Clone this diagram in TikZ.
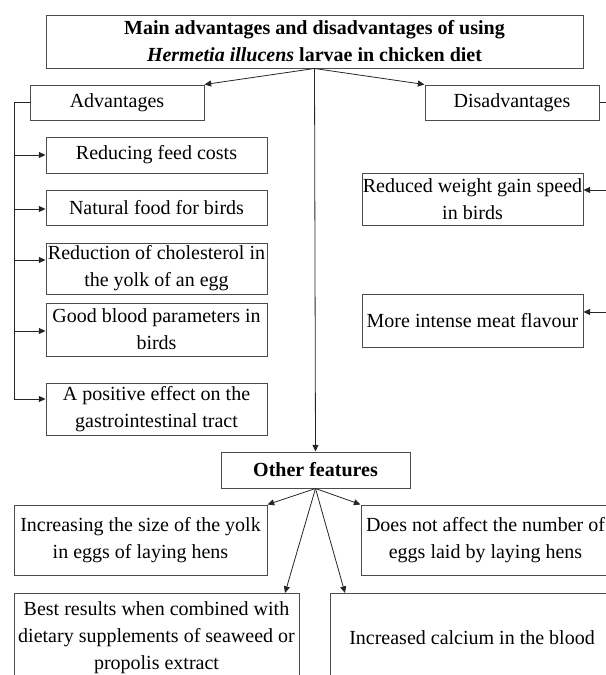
\documentclass[tikz,border=0pt]{standalone}
\usepackage{fontspec}
\setmainfont{Liberation Serif}
\usetikzlibrary{arrows.meta}
\tikzset{
  bx/.style={draw=black!70, line width=0.75pt, inner sep=0pt, align=center,
    font=\fontsize{15}{20.25}\selectfont},
  arr/.style={-{Triangle[length=5pt,width=4.5pt]}, line width=0.6pt, draw=black!85},
  ln/.style={line width=0.6pt, draw=black!85}
}
\newcommand{\placebox}[6]{\node[bx, minimum width={(#4-#2)*0.75pt}, minimum height={(#5-#3)*0.75pt}] (#1) at ({(#2+#4)/2},{(#3+#5)/2}) {#6};}
\begin{document}
\begin{tikzpicture}[x=0.75pt,y=-0.75pt]
\useasboundingbox (0,0) rectangle (606,675);
\clip (0,0) rectangle (606,675);
% boxes
\placebox{top}{46}{15}{583}{68}{\textbf{Main advantages and disadvantages of using}\\\textbf{\textit{Hermetia illucens}} \textbf{larvae in chicken diet}}
\placebox{adv}{30}{85}{204}{120}{Advantages}
\placebox{dis}{425}{85}{599}{120}{Disadvantages}
\placebox{b1}{46}{137}{267}{173}{Reducing feed costs}
\placebox{b2}{46}{190}{267}{225}{Natural food for birds}
\placebox{b3}{46}{243}{267}{294}{Reduction of cholesterol in\\the yolk of an egg}
\placebox{b4}{46}{303}{267}{356}{Good blood parameters in\\birds}
\placebox{b5}{46}{383}{267}{435}{A positive effect on the\\gastrointestinal tract}
\placebox{r1}{362}{173}{583}{225}{Reduced weight gain speed\\in birds}
\placebox{r2}{362}{294}{583}{347}{More intense meat flavour}
\placebox{other}{221}{452}{410}{488}{\textbf{Other features}}
\placebox{inc}{14}{505}{267}{575}{Increasing the size of the yolk\\in eggs of laying hens}
\placebox{dna}{361}{505}{610}{575}{Does not affect the number of\\eggs laid by laying hens}
\placebox{best}{14}{593}{299}{683}{Best results when combined with\\dietary supplements of seaweed or\\propolis extract}
\placebox{cal}{330}{593}{614}{683}{Increased calcium in the blood}
% coordinates
\coordinate (a1) at (14,155);
\coordinate (a2) at (14,209);
\coordinate (a3) at (14,260);
\coordinate (a4) at (14,331);
\coordinate (a5) at (14,399);
\coordinate (q1) at (609,190);
\coordinate (q2) at (609,312);
\coordinate (tb) at (285,593);
\coordinate (tc) at (345,593);
% top connectors
\draw[arr] (top.south) -- (adv.north east);
\draw[arr] (top.south) -- (dis.north west);
\draw[arr] (top.south) -- (other.north);
% left trunk
\draw[ln] (adv.west) -| (a5);
\draw[arr] (a1) -- (a1 -| b1.west);
\draw[arr] (a2) -- (a2 -| b2.west);
\draw[arr] (a3) -- (a3 -| b3.west);
\draw[arr] (a4) -- (a4 -| b4.west);
\draw[arr] (a5) -- (a5 -| b5.west);
% right trunk
\draw[ln] (dis.east) -| (q2);
\draw[arr] (q1) -- (q1 -| r1.east);
\draw[arr] (q2) -- (q2 -| r2.east);
% other features
\draw[arr] (other.south) -- (inc.north east);
\draw[arr] (other.south) -- (dna.north west);
\draw[arr] (other.south) -- (tb);
\draw[arr] (other.south) -- (tc);
\end{tikzpicture}
\end{document}
